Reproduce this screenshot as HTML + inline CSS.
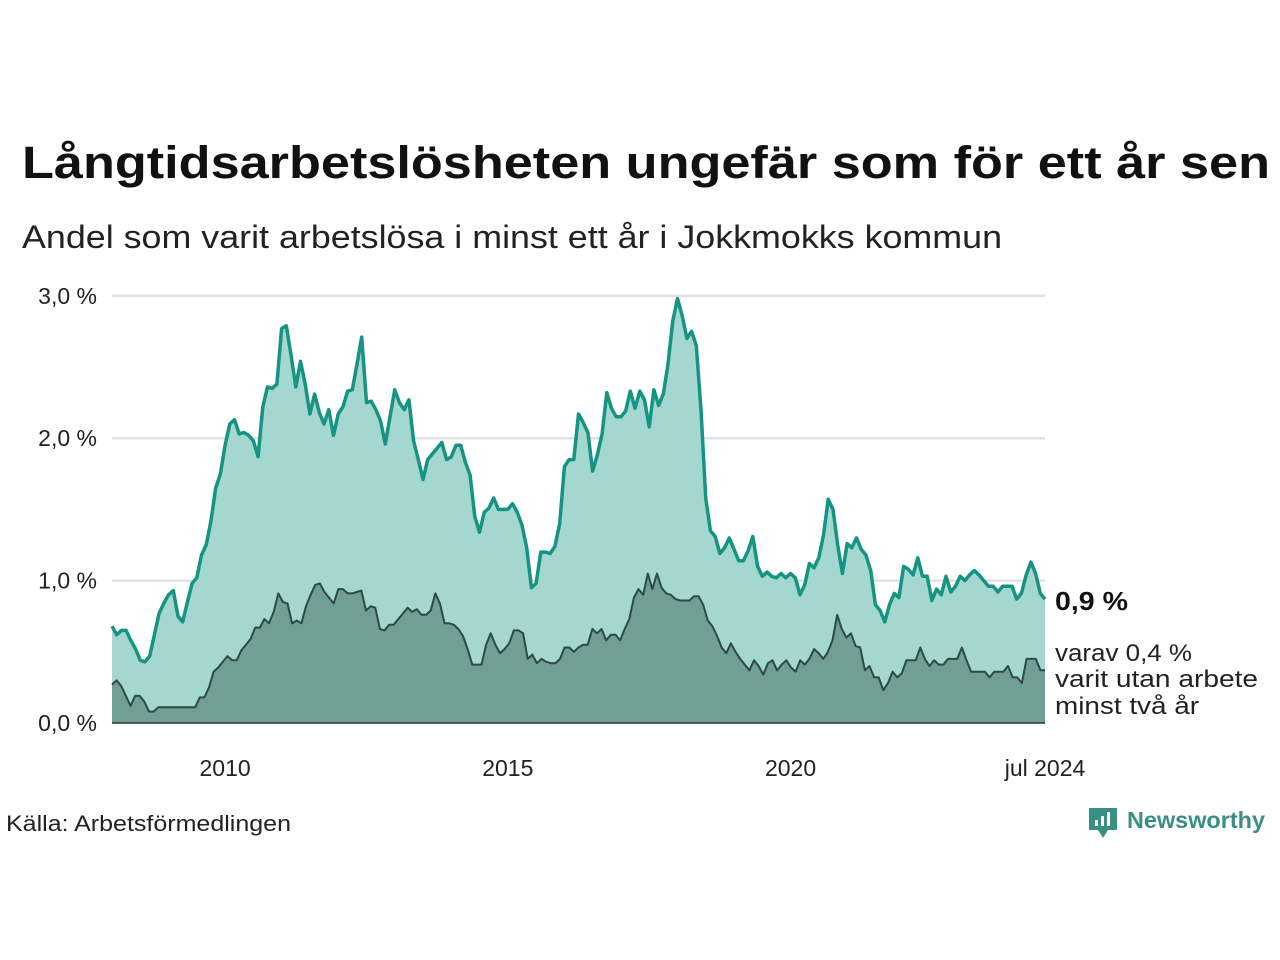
<!DOCTYPE html>
<html><head><meta charset="utf-8"><style>
html,body{margin:0;padding:0;background:#fff;width:1280px;height:960px;overflow:hidden}
svg{display:block;font-family:"Liberation Sans",sans-serif}
</style></head><body>
<svg id="chart" width="1280" height="960">
<text x="22" y="178" font-size="45" font-weight="bold" fill="#111" textLength="1248" lengthAdjust="spacingAndGlyphs">Långtidsarbetslösheten ungefär som för ett år sen</text>
<text x="22" y="248" font-size="32" fill="#222" textLength="980" lengthAdjust="spacingAndGlyphs">Andel som varit arbetslösa i minst ett år i Jokkmokks kommun</text>
<g id="grid"></g>
<g id="areas"></g>
<g id="yticks"></g>
<g id="xticks"></g>
<text x="1055" y="610" font-size="26" font-weight="bold" fill="#111" textLength="73" lengthAdjust="spacingAndGlyphs">0,9 %</text>
<g font-size="24" fill="#222">
<text x="1055" y="661" textLength="137" lengthAdjust="spacingAndGlyphs">varav 0,4 %</text>
<text x="1055" y="687" textLength="203" lengthAdjust="spacingAndGlyphs">varit utan arbete</text>
<text x="1055" y="714" textLength="144" lengthAdjust="spacingAndGlyphs">minst två år</text>
</g>
<text x="6" y="831" font-size="22" fill="#222" textLength="285" lengthAdjust="spacingAndGlyphs">Källa: Arbetsförmedlingen</text>
<g>
<path d="M1089 808 h28 v22 h-9 l-5 8 l-5 -8 h-9 z" fill="#3a8f84"/>
<rect x="1095" y="820" width="3" height="6" fill="#fff"/><rect x="1101" y="816" width="3" height="10" fill="#fff"/><rect x="1107" y="812" width="3" height="14" fill="#fff"/>
<text x="1127" y="828" font-size="23" font-weight="bold" fill="#3a8f84" textLength="138" lengthAdjust="spacingAndGlyphs">Newsworthy</text>
</g>
</svg>
<script>
const xTickLabels=["2010","2015","2020","jul 2024"];
const xTickMonths=[24,84,144,198];
const yTickValues=[0,1,2,3];
const yTickLabels=["0,0 %","1,0 %","2,0 %","3,0 %"];
const totalShare=[0.68,0.62,0.65,0.65,0.58,0.52,0.44,0.43,0.47,0.62,0.77,0.84,0.90,0.93,0.75,0.71,0.85,0.98,1.02,1.18,1.25,1.42,1.65,1.75,1.95,2.10,2.13,2.03,2.04,2.02,1.98,1.87,2.22,2.36,2.35,2.38,2.77,2.79,2.58,2.36,2.54,2.38,2.17,2.31,2.18,2.10,2.20,2.02,2.17,2.22,2.33,2.34,2.52,2.71,2.25,2.26,2.20,2.12,1.96,2.15,2.34,2.25,2.20,2.27,1.98,1.85,1.71,1.85,1.89,1.93,1.97,1.85,1.87,1.95,1.95,1.83,1.74,1.45,1.34,1.48,1.51,1.58,1.50,1.50,1.50,1.54,1.48,1.39,1.23,0.95,0.98,1.20,1.20,1.19,1.24,1.40,1.80,1.85,1.85,2.17,2.11,2.04,1.77,1.88,2.03,2.32,2.21,2.15,2.15,2.19,2.33,2.21,2.33,2.27,2.08,2.34,2.23,2.31,2.52,2.82,2.98,2.86,2.70,2.75,2.65,2.20,1.58,1.35,1.31,1.19,1.23,1.30,1.22,1.14,1.14,1.21,1.31,1.10,1.03,1.06,1.03,1.02,1.05,1.02,1.05,1.02,0.90,0.97,1.12,1.09,1.16,1.32,1.57,1.50,1.25,1.05,1.26,1.23,1.30,1.22,1.18,1.07,0.83,0.79,0.71,0.83,0.91,0.88,1.10,1.08,1.04,1.16,1.03,1.03,0.86,0.94,0.90,1.03,0.92,0.96,1.03,1.00,1.04,1.07,1.04,1.00,0.96,0.96,0.92,0.96,0.96,0.96,0.87,0.91,1.04,1.13,1.05,0.91,0.87];
const longShare=[0.27,0.30,0.26,0.19,0.12,0.19,0.19,0.15,0.08,0.08,0.11,0.11,0.11,0.11,0.11,0.11,0.11,0.11,0.11,0.18,0.18,0.25,0.36,0.39,0.43,0.47,0.44,0.44,0.51,0.55,0.59,0.67,0.67,0.73,0.70,0.78,0.91,0.85,0.84,0.70,0.72,0.70,0.82,0.90,0.97,0.98,0.92,0.88,0.84,0.94,0.94,0.91,0.91,0.92,0.93,0.79,0.82,0.81,0.66,0.65,0.69,0.69,0.73,0.77,0.81,0.78,0.80,0.76,0.76,0.79,0.91,0.84,0.70,0.70,0.69,0.66,0.61,0.52,0.41,0.41,0.41,0.55,0.63,0.55,0.49,0.52,0.56,0.65,0.65,0.63,0.45,0.48,0.42,0.45,0.43,0.42,0.42,0.45,0.53,0.53,0.50,0.53,0.55,0.55,0.66,0.63,0.66,0.58,0.62,0.62,0.58,0.66,0.73,0.88,0.94,0.90,1.05,0.94,1.05,0.95,0.91,0.90,0.87,0.86,0.86,0.86,0.89,0.89,0.83,0.72,0.68,0.61,0.53,0.49,0.56,0.50,0.45,0.41,0.37,0.44,0.40,0.34,0.42,0.44,0.37,0.41,0.44,0.39,0.36,0.44,0.41,0.45,0.52,0.49,0.45,0.50,0.58,0.76,0.66,0.60,0.63,0.54,0.53,0.37,0.40,0.32,0.32,0.23,0.28,0.36,0.32,0.35,0.44,0.44,0.44,0.53,0.45,0.40,0.44,0.41,0.41,0.45,0.45,0.45,0.53,0.44,0.36,0.36,0.36,0.36,0.32,0.36,0.36,0.36,0.40,0.32,0.32,0.28,0.45,0.45,0.45,0.37,0.37];
const NS="http://www.w3.org/2000/svg";
const X0=112,X1=1045,Y0=723,YPER=142.4;
const MONTHS=199;
const xm=m=>X0+(X1-X0)*m/(MONTHS-1);
const xs=(i,n)=>X0+(X1-X0)*i/(n-1);
const ys=v=>Y0-v*YPER;
function mk(tag,attrs,parent){const e=document.createElementNS(NS,tag);for(const k in attrs)e.setAttribute(k,attrs[k]);parent.appendChild(e);return e;}
const grid=document.getElementById('grid'),areas=document.getElementById('areas'),yt=document.getElementById('yticks'),xt=document.getElementById('xticks');
yTickValues.forEach((v,i)=>{
 if(v>0){const l=mk('line',{x1:X0,x2:X1,y1:ys(v),y2:ys(v),stroke:'#e2e2e6','stroke-width':2.5},grid);
 
 }
 const t=mk('text',{x:97,y:ys(v)+8,'text-anchor':'end','font-size':23,fill:'#222'},yt);
 t.textContent=yTickLabels[i];
 
 
});
xTickLabels.forEach((s,i)=>{
 const t=mk('text',{x:xm(xTickMonths[i]),y:776,'text-anchor':'middle','font-size':23,fill:'#222'},xt);
 t.textContent=s;
 
 
});
function linePts(arr){return arr.map((v,i)=>xs(i,arr.length).toFixed(1)+','+ys(v).toFixed(1)).join(' ');}
function areaPath(arr){return 'M'+X0+','+Y0+' L'+linePts(arr).split(' ').join(' L')+' L'+X1+','+Y0+' Z';}
const a1=mk('path',{d:areaPath(totalShare),fill:'#a5d7d1'},areas);


const a2=mk('path',{d:areaPath(longShare),fill:'#719e97'},areas);


const l2=mk('polyline',{points:linePts(longShare),fill:'none',stroke:'#2c4a45','stroke-width':2,'stroke-linejoin':'round'},areas);


const l1=mk('polyline',{points:linePts(totalShare),fill:'none',stroke:'#169483','stroke-width':3.5,'stroke-linejoin':'round'},areas);


const base=mk('line',{x1:X0,x2:X1,y1:Y0,y2:Y0,stroke:'#333','stroke-width':1.5},areas);


</script>
</body></html>
